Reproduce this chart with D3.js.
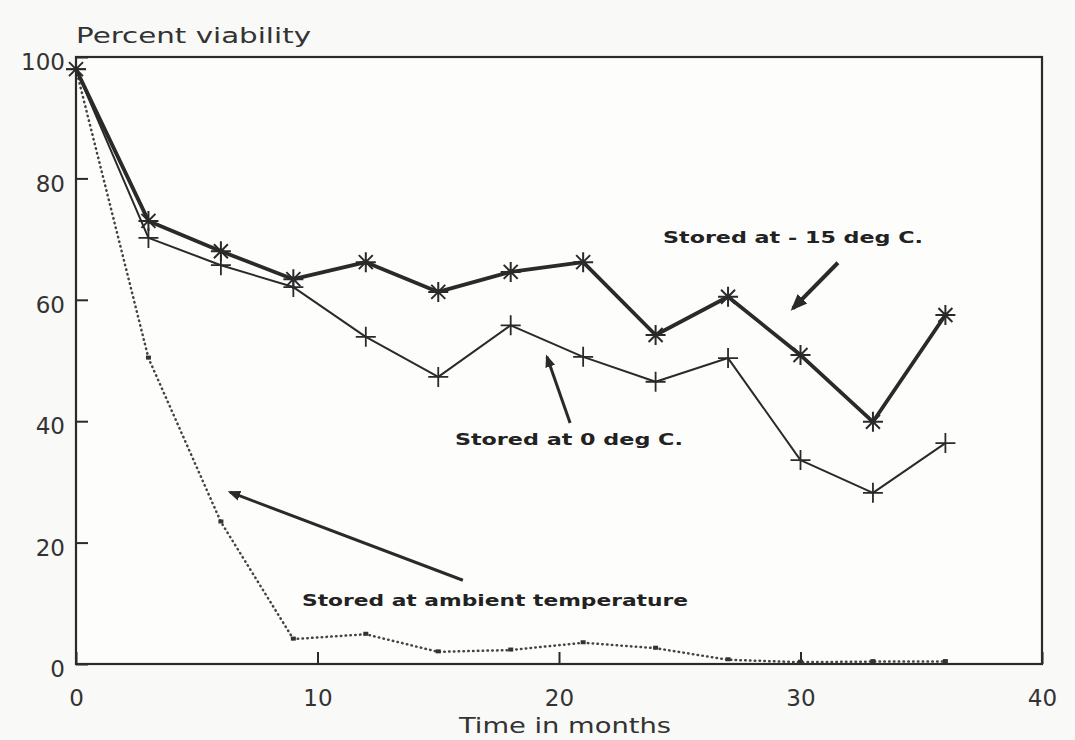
<!DOCTYPE html>
<html>
<head>
<meta charset="utf-8">
<script src="https://cdn.jsdelivr.net/npm/d3@7"></script>
<style>
  html, body { margin: 0; padding: 0; background: #f9f9f7; }
  svg { display: block; }
</style>
</head>
<body>
<svg id="chart" width="1075" height="740"></svg>
<script>
// ---- data ----
const months = [0, 3, 6, 9, 12, 15, 18, 21, 24, 27, 30, 33, 36];
const minus15 = [98, 73, 68, 63.4, 66.2, 61.3, 64.6, 66.2, 54.2, 60.5, 50.9, 39.9, 57.5];
const zeroDeg = [98, 70.2, 65.7, 62.1, 53.9, 47.3, 55.8, 50.6, 46.5, 50.4, 33.6, 28.2, 36.4];
const ambient = [98, 50.4, 23.4, 4.1, 4.9, 2.0, 2.3, 3.5, 2.6, 0.7, 0.3, 0.4, 0.4];
const xTicks = [0, 10, 20, 30, 40];
const yTicks = [0, 20, 40, 60, 80, 100];
const yTitle = "Percent viability";
const xTitle = "Time in months";
// annotations in data coordinates: [month, percent]
const annLabels = ["Stored at - 15 deg C.", "Stored at 0 deg C.", "Stored at ambient temperature"];
const annLabelPos = [[29.69, 69.3], [20.41, 36.1], [17.35, 9.6]];
const annArrowFrom = [[31.55, 66.1], [20.46, 39.7], [16.02, 13.8]];
const annArrowTo = [[29.69, 58.6], [19.50, 50.6], [6.38, 28.3]];

// ---- layout ----
const ink = "#2a2a2a";
const svg = d3.select("#chart");
const x = d3.scaleLinear().domain([0, 40]).range([76, 1042]);
const y = d3.scaleLinear().domain([0, 100]).range([664, 57]);

// frame
svg.append("rect")
  .attr("x", x(0)).attr("y", y(100))
  .attr("width", x(40) - x(0)).attr("height", y(0) - y(100))
  .attr("fill", "#fdfdfc").attr("stroke", ink).attr("stroke-width", 2.2);

// axes
const xAxis = d3.axisBottom(x).tickValues(xTicks).tickFormat(d3.format("d"))
  .tickSizeInner(-12).tickSizeOuter(0).tickPadding(26);
const gx = svg.append("g").attr("transform", `translate(0,${y(0)})`).call(xAxis);
gx.select(".domain").remove();
gx.selectAll(".tick line").attr("stroke", ink).attr("stroke-width", 2);
gx.selectAll(".tick text").attr("fill", "#333")
  .style("font-family", "'DejaVu Sans', sans-serif").style("font-size", "23px");

const yAxis = d3.axisLeft(y).tickValues(yTicks).tickFormat(d3.format("d"))
  .tickSizeInner(-12).tickSizeOuter(0).tickPadding(11);
const gy = svg.append("g").attr("transform", `translate(${x(0)},0)`).call(yAxis);
gy.select(".domain").remove();
gy.selectAll(".tick line").attr("stroke", ink).attr("stroke-width", 2);
gy.selectAll(".tick text").attr("fill", "#333").attr("dy", "0.55em")
  .style("font-family", "'DejaVu Sans', sans-serif").style("font-size", "23px");

// titles
svg.append("text").text(yTitle)
  .attr("x", x(0)).attr("y", 43)
  .attr("textLength", 235).attr("lengthAdjust", "spacingAndGlyphs")
  .attr("fill", "#333")
  .style("font-family", "'DejaVu Sans', sans-serif").style("font-size", "22px");
svg.append("text").text(xTitle)
  .attr("x", 565).attr("y", 733)
  .attr("text-anchor", "middle")
  .attr("textLength", 212).attr("lengthAdjust", "spacingAndGlyphs")
  .attr("fill", "#333")
  .style("font-family", "'DejaVu Sans', sans-serif").style("font-size", "21px");

// series
const pts = (vals) => months.map((m, i) => [m, vals[i]]);
const line = d3.line().x(d => x(d[0])).y(d => y(d[1]));

// ambient (dotted)
svg.append("path").datum(pts(ambient))
  .attr("d", line).attr("fill", "none")
  .attr("stroke", "#444").attr("stroke-width", 2.5)
  .attr("stroke-dasharray", "0.5,4.3").attr("stroke-linecap", "round");
svg.append("g").selectAll("rect").data(pts(ambient).slice(1)).join("rect")
  .attr("x", d => x(d[0]) - 2.5).attr("y", d => y(d[1]) - 2.5)
  .attr("width", 5).attr("height", 4).attr("fill", "#333");

// 0 deg C (thin, plus markers)
svg.append("path").datum(pts(zeroDeg))
  .attr("d", line).attr("fill", "none")
  .attr("stroke", ink).attr("stroke-width", 2).attr("stroke-linejoin", "round");
const plus = svg.append("g").selectAll("g").data(pts(zeroDeg)).join("g")
  .attr("transform", d => `translate(${x(d[0])},${y(d[1])})`);
plus.append("path").attr("d", "M-10,0H10M0,-10V10")
  .attr("stroke", ink).attr("stroke-width", 1.8);

// -15 deg C (thick, star markers)
svg.append("path").datum(pts(minus15))
  .attr("d", line).attr("fill", "none")
  .attr("stroke", ink).attr("stroke-width", 3.8).attr("stroke-linejoin", "round");
const star = svg.append("g").selectAll("g").data(pts(minus15)).join("g")
  .attr("transform", d => `translate(${x(d[0])},${y(d[1])})`);
star.append("path").attr("d", "M-10,0H10M0,-10V10M-7,-7L7,7M-7,7L7,-7")
  .attr("stroke", ink).attr("stroke-width", 2);

// arrows
const defs = svg.append("defs");
defs.append("marker").attr("id", "head")
  .attr("viewBox", "0 0 10 10").attr("refX", 8).attr("refY", 5)
  .attr("markerWidth", 4.2).attr("markerHeight", 4.2)
  .attr("markerUnits", "strokeWidth").attr("orient", "auto")
  .append("path").attr("d", "M0,1L10,5L0,9Z").attr("fill", ink);

const arrowWidths = [4, 3, 3];
annArrowFrom.forEach((f, i) => {
  const t = annArrowTo[i];
  svg.append("line")
    .attr("x1", x(f[0])).attr("y1", y(f[1]))
    .attr("x2", x(t[0])).attr("y2", y(t[1]))
    .attr("stroke", ink).attr("stroke-width", arrowWidths[i])
    .attr("marker-end", "url(#head)");
});

// annotation labels
const annWidths = [260, 228, 386];
annLabels.forEach((s, i) => {
  svg.append("text").text(s)
    .attr("x", x(annLabelPos[i][0])).attr("y", y(annLabelPos[i][1]))
    .attr("text-anchor", "middle")
    .attr("textLength", annWidths[i]).attr("lengthAdjust", "spacingAndGlyphs")
    .attr("fill", "#222")
    .style("font-family", "'DejaVu Sans', sans-serif")
    .style("font-weight", "bold").style("font-size", "15px");
});
</script>
</body>
</html>
